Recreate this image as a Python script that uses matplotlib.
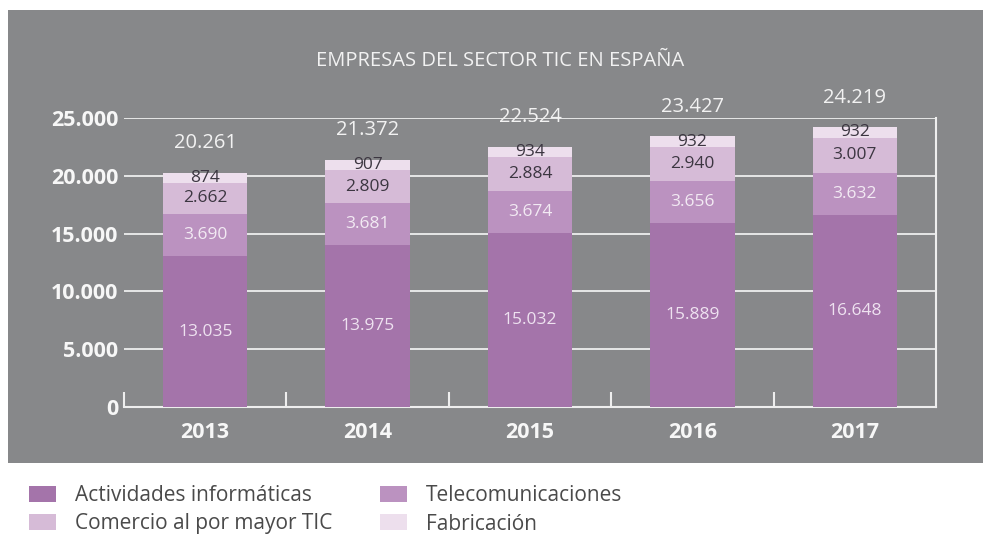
import matplotlib
matplotlib.use("Agg")
from matplotlib import pyplot as plt
from matplotlib.patches import Rectangle
import numpy as np

# data
years = ["2013", "2014", "2015", "2016", "2017"]
actividades = [13035, 13975, 15032, 15889, 16648]
telecom = [3690, 3681, 3674, 3656, 3632]
comercio = [2662, 2809, 2884, 2940, 3007]
fabricacion = [874, 907, 934, 932, 932]
totales = [20261, 21372, 22524, 23427, 24219]

series_names = ["Actividades informáticas", "Telecomunicaciones",
                "Comercio al por mayor TIC", "Fabricación"]
series = [actividades, telecom, comercio, fabricacion]
colors = ["#a474aa", "#bb92c0", "#d6bbd7", "#eddfed"]
label_colors = ["#eee2f0", "#f2eaf3", "#3c3641", "#3c3641"]

GRAY = "#87888a"
plt.rcParams["font.family"] = ["Open Sans", "DejaVu Sans"]


def fmt(v):
    return "{:,}".format(v).replace(",", ".")


def main():
    fig = plt.figure(figsize=(9.83, 5.36), dpi=100)
    W, H = 983, 536
    # gray panel
    fig.add_artist(Rectangle((8 / W, (H - 463) / H), 1 - 8 / W, (463 - 10) / H,
                             transform=fig.transFigure, facecolor=GRAY,
                             edgecolor="none", zorder=0))

    ax = fig.add_axes([124 / W, (H - 407) / H, (936 - 124) / W, (407 - 118) / H])
    ax.set_facecolor("none")
    x = np.arange(len(years))
    bottom = np.zeros(len(years))
    handles = []
    for name, vals, c, lc in zip(series_names, series, colors, label_colors):
        b = ax.bar(x, vals, 0.52, bottom=bottom, color=c, label=name, zorder=3)
        handles.append(b)
        for xi, v, bt in zip(x, vals, bottom):
            ax.text(xi, bt + v / 2, fmt(v), ha="center", va="center",
                    color=lc, fontsize=12.5, zorder=4)
        bottom += np.array(vals)

    for xi, t, top in zip(x, totales, bottom):
        ax.annotate(fmt(t), (xi, top), xytext=(0, 14), textcoords="offset points",
                    ha="center", va="bottom", color="#f2f2f2", fontsize=14.5)

    ax.set_xlim(-0.5, 4.5)
    ax.set_ylim(0, 25000)
    ax.set_yticks([0, 5000, 10000, 15000, 20000, 25000])
    ax.set_yticklabels([fmt(v) for v in [0, 5000, 10000, 15000, 20000, 25000]])
    ax.set_xticks(x)
    ax.set_xticklabels(years)
    ax.set_xticks(np.arange(-0.5, 4.0, 1.0), minor=True)
    ax.tick_params(axis="y", length=0, pad=4, labelsize=15.5, labelcolor="#f7f7f7")
    ax.tick_params(axis="x", which="major", length=0, pad=11, labelsize=15.5,
                   labelcolor="#f7f7f7")
    ax.tick_params(axis="x", which="minor", direction="in", length=11,
                   width=1.5, color="#eeeeee")
    for lab in ax.get_xticklabels() + ax.get_yticklabels():
        lab.set_fontweight("bold")

    ax.grid(axis="y", color="#eeeeee", linewidth=1.3, zorder=1)
    ax.set_axisbelow(True)
    for s in ["top", "left"]:
        ax.spines[s].set_visible(False)
    for s in ["bottom", "right"]:
        ax.spines[s].set_color("#eeeeee")
        ax.spines[s].set_linewidth(1.5)

    fig.text(500 / W, (H - 61) / H, "EMPRESAS DEL SECTOR TIC EN ESPAÑA",
             ha="center", va="center", color="#f2f2f2", fontsize=14.5)

    order = [0, 2, 1, 3]
    leg = fig.legend([handles[i] for i in order], [series_names[i] for i in order],
                     ncol=2, loc="upper left", bbox_to_anchor=(29 / W, (H - 485) / H),
                     frameon=False, fontsize=15, handlelength=1.3, handleheight=0.8,
                     handletextpad=0.9, labelspacing=0.36, columnspacing=2.3,
                     borderpad=0, borderaxespad=0)
    for t in leg.get_texts():
        t.set_color("#4a4a4a")

    fig.savefig("out.png", dpi=100)


main()
